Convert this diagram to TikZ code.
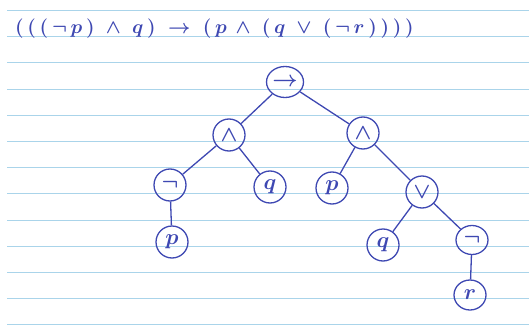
\documentclass[tikz,border=0pt]{standalone}
\usepackage{fix-cm}
\usepackage{tikz}
\definecolor{ink}{RGB}{62,72,178}
\definecolor{ruling}{RGB}{170,212,234}
\usetikzlibrary{shapes.geometric}

\begin{document}
\begin{tikzpicture}[x=1pt,y=-1pt,
  tnode/.style={draw=ink,ellipse,line width=1.3pt,inner sep=0pt,minimum width=32pt,minimum height=32pt,text=ink,font=\fontsize{22}{22}\selectfont\boldmath},
  edge/.style={ink,line width=1.3pt}]
  \useasboundingbox (0,0) rectangle (529,326);
  % ruled paper
  \foreach \k in {0,...,12}
    \draw[ruling,line width=1pt] (7,10.5+26.2*\k) -- (529,10.5+26.2*\k);
  % formula
  \node[anchor=base west,inner sep=0pt,text=ink,font=\fontsize{19.5}{20}\selectfont\boldmath] (formula) at (15,34)
    {$(\,(\,(\,\neg\,p\,)\;\wedge\;q\,)\;\to\;(\,p\,\wedge\;(\,q\;\vee\;(\,\neg\,r\,)\,)\,)\,)$};
  % tree
  \node[tnode,minimum width=37pt,minimum height=31pt] (imp) at (285,82) {$\to$};
  \node[tnode] (andL) at (229,135) {$\wedge$};
  \node[tnode] (andR) at (363,133) {$\wedge$};
  \node[tnode] (negL) at (170,185) {$\neg$};
  \node[tnode] (qL) at (270,187) {$q$};
  \node[tnode] (pR) at (332,188) {$p$};
  \node[tnode] (orR) at (422,192) {$\vee$};
  \node[tnode] (pL) at (172,242) {$p$};
  \node[tnode] (qR) at (383,245) {$q$};
  \node[tnode,minimum height=29pt] (negR) at (472,240) {$\neg$};
  \node[tnode,minimum height=30pt] (rR) at (470,295) {$r$};
  \draw[edge] (imp) -- (andL);
  \draw[edge] (imp) -- (andR);
  \draw[edge] (andL) -- (negL);
  \draw[edge] (andL) -- (qL);
  \draw[edge] (negL) -- (pL);
  \draw[edge] (andR) -- (pR);
  \draw[edge] (andR) -- (orR);
  \draw[edge] (orR) -- (qR);
  \draw[edge] (orR) -- (negR);
  \draw[edge] (negR) -- (rR);
\end{tikzpicture}
\end{document}
